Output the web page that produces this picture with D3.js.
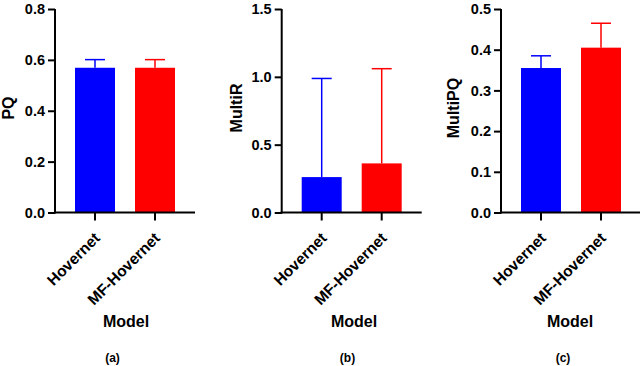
<!DOCTYPE html>
<html>
<head>
<meta charset="utf-8">
<script src="https://cdn.jsdelivr.net/npm/d3@7"></script>
<style>
  body { margin: 0; background: #fff; }
  text { font-family: "Liberation Sans", Arial, sans-serif; font-weight: bold; fill: #000; }
</style>
</head>
<body>
<script>
// data
var categories = ["Hovernet", "MF-Hovernet"];
var barColors = ["#0000ff", "#ff0000"];

var pqMean = [0.569, 0.569];
var pqSD = [0.032, 0.032];
var pqTicks = [0, 0.2, 0.4, 0.6, 0.8];

var multiRMean = [0.261, 0.362];
var multiRSD = [0.727, 0.698];
var multiRTicks = [0, 0.5, 1.0, 1.5];

var multiPQMean = [0.355, 0.405];
var multiPQSD = [0.030, 0.060];
var multiPQTicks = [0, 0.1, 0.2, 0.3, 0.4, 0.5];

var panelLetters = ["(a)", "(b)", "(c)"];

var svg = d3.select("body").append("svg").attr("width", 640).attr("height", 366);

var panels = [
  { x0: 55, mean: pqMean, sd: pqSD, ticks: pqTicks, title: "PQ", titleX: 13.5, modelX: 126, letterX: 112.5 },
  { x0: 281.7, mean: multiRMean, sd: multiRSD, ticks: multiRTicks, title: "MultiR", titleX: 241.5, modelX: 354, letterX: 347.5 },
  { x0: 501, mean: multiPQMean, sd: multiPQSD, ticks: multiPQTicks, title: "MultiPQ", titleX: 458.5, modelX: 570, letterX: 563 }
];

var y0 = 212.5, y1 = 9;

panels.forEach(function(p, pi) {
  var g = svg.append("g");

  var x = d3.scaleBand()
    .domain(categories)
    .range([p.x0, p.x0 + 140])
    .paddingInner(1 / 3)
    .paddingOuter(1 / 3);

  var y = d3.scaleLinear()
    .domain([0, p.ticks[p.ticks.length - 1]])
    .range([y0, y1]);

  // bars
  g.selectAll("rect.bar")
    .data(categories)
    .join("rect")
    .attr("class", "bar")
    .attr("x", function(d) { return x(d); })
    .attr("width", x.bandwidth())
    .attr("y", function(d, i) { return y(p.mean[i]); })
    .attr("height", function(d, i) { return y0 - y(p.mean[i]); })
    .attr("fill", function(d, i) { return barColors[i]; });

  // error bars (upper only)
  categories.forEach(function(c, i) {
    var cx = x(c) + x.bandwidth() / 2;
    var top = y(p.mean[i] + p.sd[i]);
    g.append("line")
      .attr("x1", cx).attr("x2", cx)
      .attr("y1", y(p.mean[i])).attr("y2", top)
      .attr("stroke", barColors[i]).attr("stroke-width", 1.5);
    g.append("line")
      .attr("x1", cx - 10).attr("x2", cx + 10)
      .attr("y1", top).attr("y2", top)
      .attr("stroke", barColors[i]).attr("stroke-width", 1.5);
  });

  // y axis
  var yAxis = g.append("g")
    .attr("transform", "translate(" + p.x0 + ",0)")
    .call(d3.axisLeft(y).tickValues(p.ticks).tickFormat(d3.format(".1f")).tickSize(7).tickPadding(3));
  yAxis.select(".domain").attr("stroke-width", 2).attr("d", "M0," + y1 + "V" + (y0 + 1));
  yAxis.selectAll(".tick line").attr("stroke-width", 2);
  yAxis.selectAll(".tick text").style("font-size", "14.5px").attr("font-family", null).attr("fill", "#000");

  // x axis
  var xAxis = g.append("g")
    .attr("transform", "translate(0," + y0 + ")")
    .call(d3.axisBottom(x).tickSize(8).tickFormat(""));
  xAxis.select(".domain").attr("stroke-width", 2).attr("d", "M" + (p.x0 - 1) + ",0H" + (p.x0 + 140));
  xAxis.selectAll(".tick line").attr("stroke-width", 2);

  // rotated category labels
  g.selectAll("text.cat")
    .data(categories)
    .join("text")
    .attr("class", "cat")
    .attr("text-anchor", "end")
    .style("font-size", "15.5px")
    .attr("transform", function(d) {
      return "translate(" + (x(d) + x.bandwidth() / 2 + 6) + ",239) rotate(-45)";
    })
    .text(function(d) { return d; });

  // y title
  g.append("text")
    .attr("text-anchor", "middle")
    .style("font-size", "16px")
    .attr("transform", "translate(" + p.titleX + ",108) rotate(-90)")
    .text(p.title);

  // x title
  g.append("text")
    .attr("text-anchor", "middle")
    .style("font-size", "16px")
    .attr("x", p.modelX).attr("y", 326.5)
    .text("Model");

  // panel letter
  g.append("text")
    .attr("text-anchor", "middle")
    .style("font-size", "12px")
    .attr("x", p.letterX).attr("y", 361.5)
    .text(panelLetters[pi]);
});
</script>
</body>
</html>
